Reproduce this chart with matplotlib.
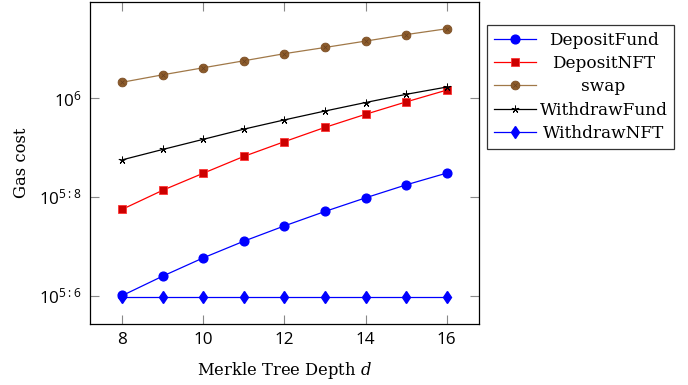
import matplotlib
matplotlib.use("Agg")
import matplotlib.pyplot as plt
from matplotlib.ticker import FixedLocator, FixedFormatter, NullLocator
from matplotlib.legend_handler import HandlerTuple

plt.rcParams['mathtext.fontset'] = 'dejavuserif'

depth = [8, 9, 10, 11, 12, 13, 14, 15, 16]

deposit_fund = [398700, 436500, 475200, 513500, 551300, 589600, 628100, 667200, 704700]
deposit_nft = [595700, 651000, 704700, 762000, 816000, 872000, 926800, 981700, 1037000]
swap = [1076000, 1114000, 1151000, 1189000, 1229000, 1265000, 1303000, 1343000, 1380000]
withdraw_fund = [749900, 787000, 825000, 865000, 903000, 941000, 979000, 1017000, 1052000]
withdraw_nft = [395900] * 9

ytick_vals = [10**5.6, 10**5.8, 10**6]
ytick_labels = [r"$\mathdefault{10^{5{:}6}}$", r"$\mathdefault{10^{5{:}8}}$", r"$\mathdefault{10^{6}}$"]

fig = plt.figure(figsize=(6.88, 3.85), dpi=100)
ax = fig.add_axes([90/688, 61/385, 389/688, 322/385])

lw = 0.9
h1, = ax.plot(depth, deposit_fund, color='blue', lw=lw, marker='o', ms=6.3,
              mfc='blue', mec='blue')
h2, = ax.plot(depth, deposit_nft, color='red', lw=lw, marker='s', ms=5.6,
              mfc='#cc0000', mec='#ff3333', mew=0.6)
h3, = ax.plot(depth, swap, color='#a07848', lw=lw, marker='o', ms=6.3,
              mfc='#8c5c2c', mec='#7a4c22', mew=0.6)
h3x, = ax.plot(depth, swap, ls='none', marker='x', ms=3.2, mec='#6a4020', mew=0.5)
h4, = ax.plot(depth, withdraw_fund, color='black', lw=lw, marker=(5, 2, 0), ms=5.5,
              mec='black', mew=0.7)
h5, = ax.plot(depth, withdraw_nft, color='blue', lw=lw, marker='d', ms=6,
              mfc='blue', mec='blue')

ax.set_yscale('log')
ax.set_xlim(7.2, 16.8)
ax.set_ylim(10**5.543, 10**6.194)

ax.yaxis.set_major_locator(FixedLocator(ytick_vals))
ax.yaxis.set_major_formatter(FixedFormatter(ytick_labels))
ax.yaxis.set_minor_locator(NullLocator())
ax.set_xticks([8, 10, 12, 14, 16])

ax.tick_params(which='both', direction='in', top=True, right=True, length=6.5,
               width=0.8, color='#888888', labelsize=12.3)
ax.tick_params(axis='x', pad=6)
ax.tick_params(axis='y', pad=6)
for lab in ax.get_xticklabels() + ax.get_yticklabels():
    lab.set_family('Open Sans')
for sp in ax.spines.values():
    sp.set_linewidth(0.9)

ax.set_xlabel(r"Merkle Tree Depth $d$", family='DejaVu Serif', fontsize=11.8)
ax.set_ylabel("Gas cost", family='DejaVu Serif', fontsize=11.8, va='center')
ax.xaxis.set_label_coords(0.5, (385 - 360 - 61) / 322)
ax.yaxis.set_label_coords((21 - 90) / 389, 0.5)

leg = fig.legend([h1, h2, (h3, h3x), h4, h5],
                 ["DepositFund", "DepositNFT", "swap", "WithdrawFund", "WithdrawNFT"],
                 handler_map={tuple: HandlerTuple(ndivide=1)},
                 loc='upper left', bbox_to_anchor=(487/688, 1 - 25/385),
                 prop={'family': 'DejaVu Serif', 'size': 12.2}, frameon=True, fancybox=False,
                 borderaxespad=0, handlelength=2.5, handletextpad=0.2,
                 labelspacing=0.37, borderpad=0.4)
leg.get_frame().set_edgecolor('black')
leg.get_frame().set_linewidth(0.9)

# centre the legend entries like pgfplots does
fig.canvas.draw()
r = fig.canvas.get_renderer()
widths = [t.get_window_extent(r).width for t in leg.get_texts()]
wmax = max(widths)
for t, w in zip(leg.get_texts(), widths):
    t.set_x((wmax - w) / 2)

fig.savefig("out.png", dpi=100)
